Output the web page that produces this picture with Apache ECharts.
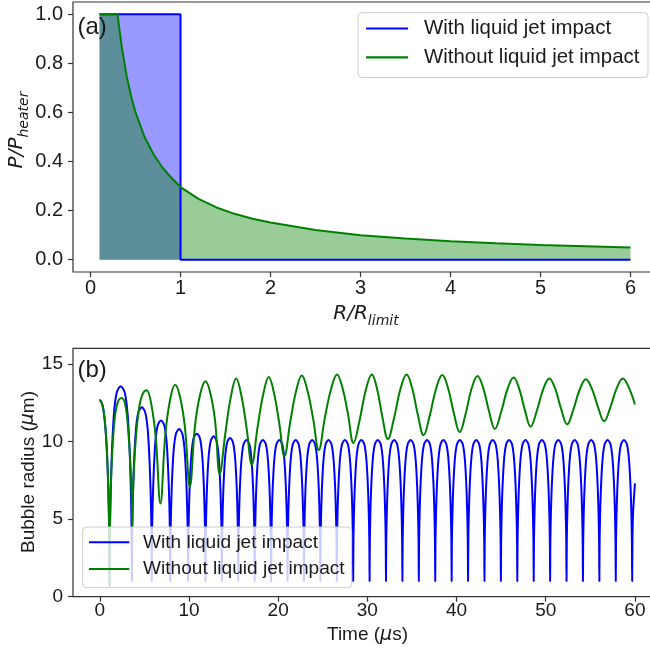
<!DOCTYPE html>
<html><head><meta charset="utf-8">
<script src="https://cdn.jsdelivr.net/npm/echarts@6/dist/echarts.min.js"></script>
<style>html,body{margin:0;padding:0;background:#fff}#c{width:650px;height:650px}</style>
</head><body><div id="c"></div>
<script>
const FONT = "'Liberation Sans', Arial, sans-serif";
const MATH = "'DejaVu Sans', sans-serif";
const seriesNames = ['With liquid jet impact', 'Without liquid jet impact'];
const topXTicks = [0, 1, 2, 3, 4, 5, 6];
const topYTicks = [0, 0.2, 0.4, 0.6, 0.8, 1.0];
const bottomXTicks = [0, 10, 20, 30, 40, 50, 60];
const bottomYTicks = [0, 5, 10, 15];

// (a) P/P_heater vs R/R_limit
const topBlueFill = [[0.1, 1], [1, 1]];
const topBlueLine = [[0.1, 1], [1, 1], [1, 0], [6, 0]];
const topGreen = [[0.1,1],[0.2,1],[0.3,1],[0.32,0.94],[0.35,0.86],[0.4,0.75],[0.45,0.667],[0.5,0.6],[0.6,0.5],[0.7,0.43],[0.8,0.375],[0.9,0.333],[1.0,0.296],[1.2,0.248],[1.4,0.213],[1.6,0.187],[1.8,0.167],[2.0,0.152],[2.5,0.121],[3.0,0.1],[3.5,0.086],[4.0,0.075],[4.5,0.067],[5.0,0.06],[5.5,0.055],[6.0,0.05]];

// (b) bubble radius (um) vs time (us)
const blueEarly = [
[0,12.7],[0.3,12.35],[0.55,11.4],[0.75,9.9],[0.9,8.0],[1.0,6.0],[1.06,4.0],
[1.1,0.7],[1.14,4.3],[1.23,6.87],[1.38,9.57],[1.6,11.88],[1.91,13.16],[2.35,13.55],[2.79,13.17],[3.1,11.92],[3.33,9.66],[3.48,7.02],[3.56,4.51],
[3.6,1.0],[3.63,4.14],[3.71,6.38],[3.85,8.73],[4.05,10.74],[4.32,11.86],[4.72,12.2],[5.1,11.86],[5.38,10.74],[5.58,8.73],[5.72,6.38],[5.8,4.14],
[5.83,1.0],[5.86,3.9],[5.93,5.97],[6.06,8.14],[6.24,10.0],[6.5,11.04],[6.87,11.35],[7.23,11.04],[7.49,10.0],[7.67,8.14],[7.8,5.97],[7.87,3.9],
[7.9,1.0],[7.93,3.74],[8.0,5.7],[8.12,7.76],[8.3,9.53],[8.55,10.51],[8.9,10.8],[9.25,10.51],[9.5,9.53],[9.68,7.76],[9.8,5.7],[9.87,3.74],
[9.9,1.0],[9.93,3.66],[10.0,5.56],[10.11,7.56],[10.29,9.27],[10.53,10.22],[10.88,10.5],[11.22,10.22],[11.46,9.27],[11.64,7.56],[11.75,5.56],[11.82,3.66],
[11.85,1.0],[11.88,3.61],[11.94,5.48],[12.05,7.44],[12.22,9.12],[12.45,10.05],[12.77,10.33],[13.09,10.05],[13.32,9.12],[13.49,7.44],[13.6,5.48],[13.66,3.61],
[13.69,1.0],[13.72,3.58],[13.78,5.43],[13.89,7.37],[14.06,9.03],[14.29,9.95],[14.61,10.23],[14.93,9.95],[15.16,9.03],[15.33,7.37],[15.44,5.43],[15.5,3.58]
];
const blueLate = [
[15.53,1],[15.56,3.55],[15.62,5.37],[15.73,7.28],[15.9,8.92],[16.13,9.83],[16.45,10.1],[16.77,9.83],[17.0,8.92],[17.17,7.28],[17.28,5.37],[17.34,3.55],
[17.37,1],[17.4,3.55],[17.46,5.37],[17.57,7.28],[17.74,8.92],[17.97,9.83],[18.29,10.1],[18.61,9.83],[18.84,8.92],[19.01,7.28],[19.12,5.37],[19.18,3.55],
[19.21,1],[19.24,3.55],[19.3,5.37],[19.41,7.28],[19.58,8.92],[19.81,9.83],[20.13,10.1],[20.45,9.83],[20.68,8.92],[20.85,7.28],[20.96,5.37],[21.02,3.55],
[21.05,1],[21.08,3.55],[21.14,5.37],[21.25,7.28],[21.42,8.92],[21.65,9.83],[21.97,10.1],[22.29,9.83],[22.52,8.92],[22.69,7.28],[22.8,5.37],[22.86,3.55],
[22.89,1],[22.92,3.55],[22.98,5.37],[23.09,7.28],[23.26,8.92],[23.49,9.83],[23.81,10.1],[24.13,9.83],[24.36,8.92],[24.53,7.28],[24.64,5.37],[24.7,3.55],
[24.73,1],[24.76,3.55],[24.82,5.37],[24.93,7.28],[25.1,8.92],[25.33,9.83],[25.65,10.1],[25.97,9.83],[26.2,8.92],[26.37,7.28],[26.48,5.37],[26.54,3.55],
[26.57,1],[26.6,3.55],[26.66,5.37],[26.77,7.28],[26.94,8.92],[27.17,9.83],[27.49,10.1],[27.81,9.83],[28.04,8.92],[28.21,7.28],[28.32,5.37],[28.38,3.55],
[28.41,1],[28.44,3.55],[28.5,5.37],[28.61,7.28],[28.78,8.92],[29.01,9.83],[29.33,10.1],[29.65,9.83],[29.88,8.92],[30.05,7.28],[30.16,5.37],[30.22,3.55],
[30.25,1],[30.28,3.55],[30.34,5.37],[30.45,7.28],[30.62,8.92],[30.85,9.83],[31.17,10.1],[31.49,9.83],[31.72,8.92],[31.89,7.28],[32.0,5.37],[32.06,3.55],
[32.09,1],[32.12,3.55],[32.18,5.37],[32.29,7.28],[32.46,8.92],[32.69,9.83],[33.01,10.1],[33.33,9.83],[33.56,8.92],[33.73,7.28],[33.84,5.37],[33.9,3.55],
[33.93,1],[33.96,3.55],[34.02,5.37],[34.13,7.28],[34.3,8.92],[34.53,9.83],[34.85,10.1],[35.17,9.83],[35.4,8.92],[35.57,7.28],[35.68,5.37],[35.74,3.55],
[35.77,1],[35.8,3.55],[35.86,5.37],[35.97,7.28],[36.14,8.92],[36.37,9.83],[36.69,10.1],[37.01,9.83],[37.24,8.92],[37.41,7.28],[37.52,5.37],[37.58,3.55],
[37.61,1],[37.64,3.55],[37.7,5.37],[37.81,7.28],[37.98,8.92],[38.21,9.83],[38.53,10.1],[38.85,9.83],[39.08,8.92],[39.25,7.28],[39.36,5.37],[39.42,3.55],
[39.45,1],[39.48,3.55],[39.54,5.37],[39.65,7.28],[39.82,8.92],[40.05,9.83],[40.37,10.1],[40.69,9.83],[40.92,8.92],[41.09,7.28],[41.2,5.37],[41.26,3.55],
[41.29,1],[41.32,3.55],[41.38,5.37],[41.49,7.28],[41.66,8.92],[41.89,9.83],[42.21,10.1],[42.53,9.83],[42.76,8.92],[42.93,7.28],[43.04,5.37],[43.1,3.55],
[43.13,1],[43.16,3.55],[43.22,5.37],[43.33,7.28],[43.5,8.92],[43.73,9.83],[44.05,10.1],[44.37,9.83],[44.6,8.92],[44.77,7.28],[44.88,5.37],[44.94,3.55],
[44.97,1],[45.0,3.55],[45.06,5.37],[45.17,7.28],[45.34,8.92],[45.57,9.83],[45.89,10.1],[46.21,9.83],[46.44,8.92],[46.61,7.28],[46.72,5.37],[46.78,3.55],
[46.81,1],[46.84,3.55],[46.9,5.37],[47.01,7.28],[47.18,8.92],[47.41,9.83],[47.73,10.1],[48.05,9.83],[48.28,8.92],[48.45,7.28],[48.56,5.37],[48.62,3.55],
[48.65,1],[48.68,3.55],[48.74,5.37],[48.85,7.28],[49.02,8.92],[49.25,9.83],[49.57,10.1],[49.89,9.83],[50.12,8.92],[50.29,7.28],[50.4,5.37],[50.46,3.55],
[50.49,1],[50.52,3.55],[50.58,5.37],[50.69,7.28],[50.86,8.92],[51.09,9.83],[51.41,10.1],[51.73,9.83],[51.96,8.92],[52.13,7.28],[52.24,5.37],[52.3,3.55],
[52.33,1],[52.36,3.55],[52.42,5.37],[52.53,7.28],[52.7,8.92],[52.93,9.83],[53.25,10.1],[53.57,9.83],[53.8,8.92],[53.97,7.28],[54.08,5.37],[54.14,3.55],
[54.17,1],[54.2,3.55],[54.26,5.37],[54.37,7.28],[54.54,8.92],[54.77,9.83],[55.09,10.1],[55.41,9.83],[55.64,8.92],[55.81,7.28],[55.92,5.37],[55.98,3.55],
[56.01,1],[56.04,3.55],[56.1,5.37],[56.21,7.28],[56.38,8.92],[56.61,9.83],[56.93,10.1],[57.25,9.83],[57.48,8.92],[57.65,7.28],[57.76,5.37],[57.82,3.55],
[57.85,1],[57.88,3.55],[57.94,5.37],[58.05,7.28],[58.22,8.92],[58.45,9.83],[58.77,10.1],[59.09,9.83],[59.32,8.92],[59.49,7.28],[59.6,5.37],[59.66,3.55],
[59.69,1],[59.72,3.55],[59.79,5.37],[60.0,7.3]
];
const greenRadius = [
[0,12.7],[0.3,12.35],[0.55,11.4],[0.75,9.9],[0.9,8.0],[1.0,6.0],[1.06,4.0],[1.1,0.7],
[1.13,4.0],[1.2,6.2],[1.35,8.7],[1.6,11.0],[1.95,12.4],[2.45,12.8],
[2.85,12.4],[3.15,11.0],[3.4,8.9],[3.55,7.0],[3.62,5.6],[3.65,4.5],
[3.7,6.0],[3.85,8.4],[4.1,10.6],[4.45,12.3],[4.8,13.05],[5.25,13.3],
[5.77,12.42],[6.28,10.23],[6.8,6.0],
[7.35,10.44],[7.9,12.73],[8.45,13.65],
[9.0,12.86],[9.55,10.9],[10.1,7.1],
[10.68,11.03],[11.27,13.07],[11.85,13.88],
[12.38,13.16],[12.92,11.37],[13.45,7.9],
[14.07,10.48],[14.68,12.82],[15.3,14.05],
[15.88,12.94],[16.47,10.83],[17.05,8.5],
[17.68,10.87],[18.32,13.02],[18.95,14.15],
[19.53,13.13],[20.12,11.19],[20.7,9.05],
[21.35,11.23],[22.0,13.21],[22.65,14.25],
[23.28,13.29],[23.92,11.47],[24.55,9.45],
[25.23,11.5],[25.92,13.35],[26.6,14.32],
[27.22,13.44],[27.83,11.76],[28.45,9.9],
[29.13,11.36],[29.82,13.3],[30.5,14.32],
[31.1,13.36],[31.7,11.53],[32.3,10.15],
[33.0,11.53],[33.7,13.36],[34.4,14.32],
[35.03,13.42],[35.67,11.69],[36.3,10.4],
[37.0,11.68],[37.7,13.39],[38.4,14.28],
[39.05,13.43],[39.7,11.81],[40.35,10.6],
[41.02,11.79],[41.68,13.39],[42.35,14.22],
[43.0,13.43],[43.65,11.93],[44.3,10.8],
[45.0,11.9],[45.7,13.36],[46.4,14.12],
[47.03,13.39],[47.67,12.0],[48.3,10.95],
[49.0,11.98],[49.7,13.34],[50.4,14.06],
[51.07,13.38],[51.73,12.08],[52.4,11.1],
[53.1,12.06],[53.8,13.33],[54.5,14.0],
[55.18,13.38],[55.87,12.19],[56.55,11.3],
[57.25,12.21],[57.95,13.42],[58.65,14.05],
[59.33,13.45],[60.0,12.38]
];

const BLUE = '#0000ff', GREEN = '#008000', SPINE = '#333333', TXT = '#1a1a1a';

function axisCommon(ticks, fontSize, margin, fmt) {
  return {
    axisLine: { show: false, onZero: false },
    axisTick: { show: true, customValues: ticks, length: 5, lineStyle: { color: SPINE, width: 1.2 } },
    axisLabel: { customValues: ticks, fontFamily: FONT, fontSize: fontSize, color: TXT, margin: margin, formatter: fmt },
    splitLine: { show: false }
  };
}

// text measuring for composing math-style labels (layout only)
const mctx = document.createElement('canvas').getContext('2d');
function textW(font, s) { mctx.font = font; return mctx.measureText(s).width; }
function subLabel(cx, cy, rot, main, sub, mainSize, subSize, drop) {
  const fMain = 'italic ' + mainSize + 'px ' + MATH;
  const fSub = 'italic ' + subSize + 'px ' + MATH;
  const wM = textW(fMain, main), wS = textW(fSub, sub);
  const x0 = -(wM + wS) / 2;
  return {
    type: 'group', x: cx, y: cy, rotation: rot, z: 100,
    children: [
      { type: 'text', x: x0, y: 0, style: { text: main, fontFamily: MATH, fontStyle: 'italic', fontSize: mainSize, fill: TXT, align: 'left', verticalAlign: 'middle' } },
      { type: 'text', x: x0 + wM, y: drop, style: { text: sub, fontFamily: MATH, fontStyle: 'italic', fontSize: subSize, fill: TXT, align: 'left', verticalAlign: 'middle' } }
    ]
  };
}

const chart = echarts.init(document.getElementById('c'), null, { renderer: 'canvas' });
chart.setOption({
  animation: false,
  backgroundColor: '#ffffff',
  grid: [
    { left: 73, top: 2, width: 584, height: 270, outerBoundsMode: 'none', containLabel: false, show: true, borderColor: SPINE, borderWidth: 1.2, backgroundColor: 'transparent' },
    { left: 73, top: 348.3, width: 588.7, height: 248.4, outerBoundsMode: 'none', containLabel: false, show: true, borderColor: SPINE, borderWidth: 1.2, backgroundColor: 'transparent' }
  ],
  xAxis: [
    Object.assign({ type: 'value', gridIndex: 0, min: -0.195, max: 6.295 }, axisCommon(topXTicks, 20, 6, v => String(v))),
    Object.assign({ type: 'value', gridIndex: 1, min: -3, max: 63 }, axisCommon(bottomXTicks, 19, 5, v => String(v)))
  ],
  yAxis: [
    Object.assign({ type: 'value', gridIndex: 0, min: -0.05, max: 1.05 }, axisCommon(topYTicks, 20, 10, v => v.toFixed(1))),
    Object.assign({ type: 'value', gridIndex: 1, min: 0, max: 16 }, axisCommon(bottomYTicks, 19, 10, v => String(v)))
  ],
  legend: [
    {
      data: seriesNames, orient: 'vertical', right: 2, top: 12.7,
      icon: 'rect', itemWidth: 42, itemHeight: 2.2, itemGap: 8.4,
      padding: [5.6, 8.6, 10, 8],
      backgroundColor: 'rgba(255,255,255,0.8)', borderColor: '#cccccc', borderWidth: 1, borderRadius: 4,
      selectedMode: false,
      textStyle: { fontFamily: FONT, fontSize: 20.4, lineHeight: 20.4, color: TXT, padding: [0, 0, 0, 11] }
    },
    {
      data: seriesNames, orient: 'vertical', left: 82.7, top: 527,
      icon: 'rect', itemWidth: 40.3, itemHeight: 2.1, itemGap: 7.6,
      padding: [5.75, 7, 9.15, 6.3],
      backgroundColor: 'rgba(255,255,255,0.8)', borderColor: '#cccccc', borderWidth: 1, borderRadius: 4,
      selectedMode: false,
      textStyle: { fontFamily: FONT, fontSize: 19.1, lineHeight: 19.1, color: TXT, padding: [0, 0, 0, 8.7] }
    }
  ],
  series: [
    { name: 'blueFill', type: 'line', xAxisIndex: 0, yAxisIndex: 0, data: topBlueFill, symbol: 'none',
      lineStyle: { width: 0, opacity: 0 }, areaStyle: { color: BLUE, opacity: 0.4 }, z: 1, silent: true },
    { name: 'greenFill', type: 'line', xAxisIndex: 0, yAxisIndex: 0, data: topGreen, symbol: 'none',
      lineStyle: { width: 0, opacity: 0 }, areaStyle: { color: GREEN, opacity: 0.4 }, z: 1, silent: true },
    { name: seriesNames[0], type: 'line', xAxisIndex: 0, yAxisIndex: 0, data: topBlueLine, symbol: 'none',
      color: BLUE, lineStyle: { color: BLUE, width: 2 }, z: 3 },
    { name: seriesNames[1], type: 'line', xAxisIndex: 0, yAxisIndex: 0, data: topGreen, symbol: 'none',
      color: GREEN, lineStyle: { color: GREEN, width: 2 }, z: 3 },
    { name: seriesNames[0], type: 'line', xAxisIndex: 1, yAxisIndex: 1, data: blueEarly.concat(blueLate), symbol: 'none',
      smooth: 0.3, color: BLUE, lineStyle: { color: BLUE, width: 2 }, z: 3 },
    { name: seriesNames[1], type: 'line', xAxisIndex: 1, yAxisIndex: 1, data: greenRadius, symbol: 'none',
      smooth: 0.4, color: GREEN, lineStyle: { color: GREEN, width: 2 }, z: 3 }
  ],
  graphic: { elements: [
    { type: 'text', x: 77.5, y: 27, z: 100, style: { text: '(a)', fontFamily: FONT, fontSize: 24, fill: TXT, align: 'left', verticalAlign: 'middle' } },
    { type: 'text', x: 77.5, y: 370.5, z: 100, style: { text: '(b)', fontFamily: FONT, fontSize: 24, fill: TXT, align: 'left', verticalAlign: 'middle' } },
    subLabel(17, 130, Math.PI / 2, 'P/P', 'heater', 20, 14, 7),
    subLabel(366, 314, 0, 'R/R', 'limit', 20, 14, 7),
    { type: 'text', x: 28.5, y: 472, rotation: Math.PI / 2, z: 100, style: {
        text: '{n|Bubble radius (}{i|\u03bc}{n|m)}', align: 'center', verticalAlign: 'middle',
        rich: {
          n: { fontFamily: FONT, fontSize: 19, fill: TXT },
          i: { fontFamily: MATH, fontSize: 19, fontStyle: 'italic', fill: TXT }
        } } },
    { type: 'text', x: 367.5, y: 635, z: 100, style: {
        text: '{n|Time (}{i|\u03bc}{n|s)}', align: 'center', verticalAlign: 'middle',
        rich: {
          n: { fontFamily: FONT, fontSize: 19, fill: TXT },
          i: { fontFamily: MATH, fontSize: 19, fontStyle: 'italic', fill: TXT }
        } } }
  ] }
});
</script></body></html>
